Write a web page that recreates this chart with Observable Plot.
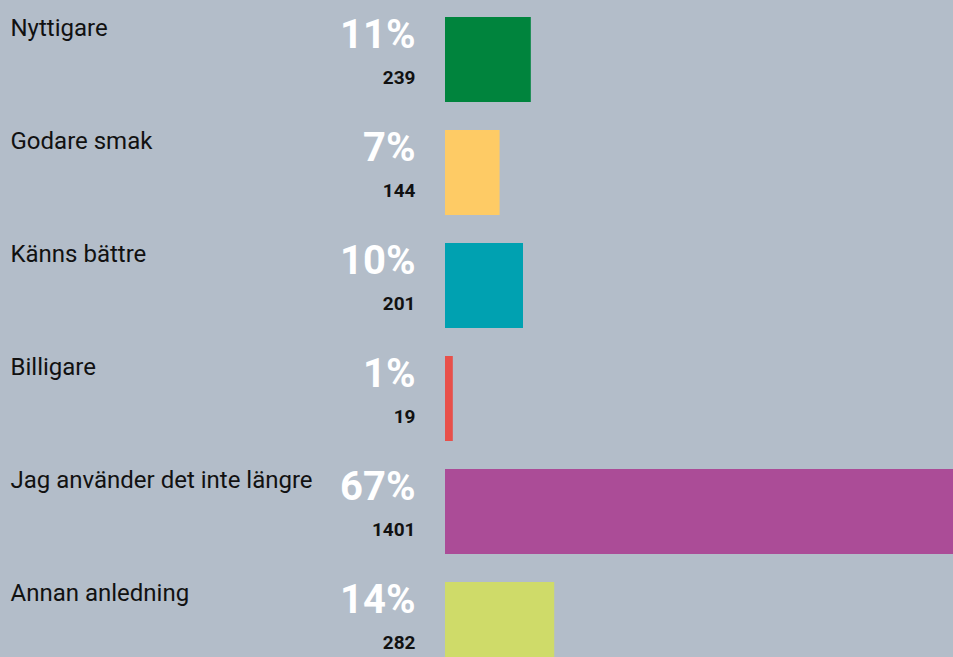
<!DOCTYPE html>
<html>
<head>
<meta charset="utf-8">
<script src="https://cdn.jsdelivr.net/npm/d3@7"></script>
<script src="https://cdn.jsdelivr.net/npm/@observablehq/plot@0.6"></script>
<style>
  html, body { margin: 0; padding: 0; background: #b3bdc9; overflow: hidden; }
  #chart svg { display: block; overflow: hidden; }
</style>
</head>
<body>
<div id="chart"></div>
<script>
const categories = ["Nyttigare", "Godare smak", "Känns bättre", "Billigare", "Jag använder det inte längre", "Annan anledning"];
const percents = [11, 7, 10, 1, 67, 14];
const counts = [239, 144, 201, 19, 1401, 282];
const palette = ["#00843d", "#fecb65", "#00a1b1", "#e8504a", "#ab4c97", "#cfdb69"];

const data = categories.map((c, i) => ({category: c, pct: percents[i], count: counts[i]}));

const W = 953, H = 657, ML = 445;
const pxPerPct = 7.8;
const rowStep = 113, rowBand = 85, rowTop = 16.5;

const chart = Plot.plot({
  width: W,
  height: H,
  marginLeft: ML,
  marginRight: 0,
  marginTop: 0,
  marginBottom: 0,
  style: {background: "#b3bdc9", fontFamily: "Roboto, sans-serif", overflow: "hidden"},
  x: {domain: [0, (W - ML) / pxPerPct], axis: null},
  y: {
    domain: categories,
    range: [rowTop, rowTop + (categories.length - 1) * rowStep + rowBand],
    paddingInner: (rowStep - rowBand) / rowStep,
    paddingOuter: 0,
    axis: null
  },
  color: {domain: categories, range: palette},
  marks: [
    Plot.barX(data, {x: "pct", y: "category", fill: "category", clip: true}),
    Plot.text(data, {
      y: "category", text: "category", frameAnchor: "left", textAnchor: "start",
      lineAnchor: "bottom", dx: -(ML - 10), dy: -23.8,
      fontSize: 24, fill: "#111"
    }),
    Plot.text(data, {
      y: "category", text: d => d.pct + "%", frameAnchor: "left", textAnchor: "end",
      lineAnchor: "bottom", dx: -30, dy: -12.2,
      fontSize: 40, fontWeight: 700, fill: "#ffffff"
    }),
    Plot.text(data, {
      y: "category", text: d => String(d.count), frameAnchor: "left", textAnchor: "end",
      lineAnchor: "bottom", dx: -30, dy: 24.4,
      fontSize: 19, fontWeight: 700, fill: "#111"
    })
  ]
});
document.getElementById("chart").appendChild(chart);
</script>
</body>
</html>
